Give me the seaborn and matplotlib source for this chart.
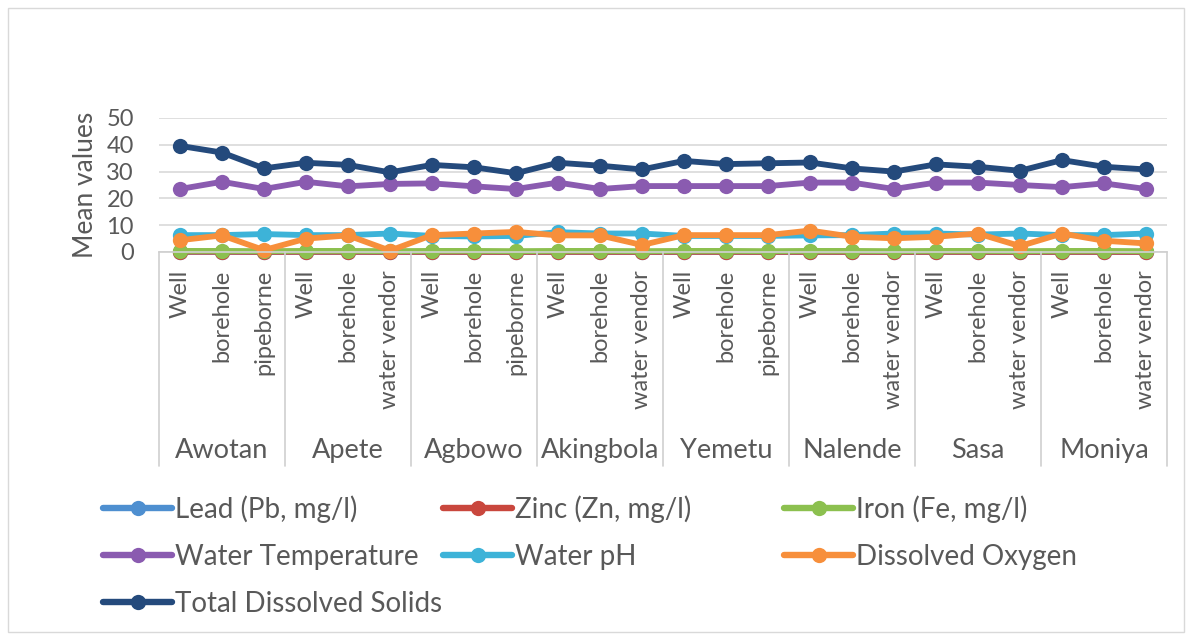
import pandas as pd
import seaborn as sns
import matplotlib.pyplot as plt
from matplotlib.lines import Line2D
from matplotlib.patches import Rectangle

# sampling sites and water sources
towns = ['Awotan', 'Apete', 'Agbowo', 'Akingbola', 'Yemetu', 'Nalende', 'Sasa', 'Moniya']
sources = [
    ['Well', 'borehole', 'pipeborne'],
    ['Well', 'borehole', 'water vendor'],
    ['Well', 'borehole', 'pipeborne'],
    ['Well', 'borehole', 'water vendor'],
    ['Well', 'borehole', 'pipeborne'],
    ['Well', 'borehole', 'water vendor'],
    ['Well', 'borehole', 'water vendor'],
    ['Well', 'borehole', 'water vendor'],
]

# mean values (24 samples)
lead = [0.05, 0.05, 0.02, 0.03, 0.04, 0.02, 0.03, 0.04, 0.02, 0.03, 0.03, 0.02,
        0.03, 0.04, 0.02, 0.03, 0.03, 0.02, 0.03, 0.04, 0.02, 0.03, 0.03, 0.02]
zinc = [0.1, 0.1, 0.05, 0.08, 0.08, 0.05, 0.07, 0.06, 0.05, 0.07, 0.06, 0.05,
        0.07, 0.06, 0.05, 0.07, 0.06, 0.05, 0.07, 0.06, 0.05, 0.07, 0.06, 0.05]
iron = [0.4, 0.4, 0.3, 0.4, 0.4, 0.3, 0.4, 0.4, 0.3, 0.4, 0.4, 0.3,
        0.4, 0.4, 0.3, 0.4, 0.4, 0.3, 0.4, 0.4, 0.3, 0.4, 0.4, 0.3]
temperature = [23.5, 26.2, 23.5, 26.2, 24.5, 25.4, 25.6, 24.5, 23.5, 25.9, 23.5, 24.6,
               24.6, 24.6, 24.6, 25.9, 25.9, 23.5, 25.9, 25.9, 25.0, 24.2, 25.6, 23.5]
ph = [6.3, 6.3, 6.7, 6.3, 6.3, 6.9, 6.0, 5.8, 6.0, 7.4, 6.9, 6.9,
      6.0, 6.0, 6.0, 6.2, 6.3, 6.9, 6.9, 6.5, 6.9, 6.3, 6.3, 6.9]
oxygen = [4.4, 6.2, 0.7, 5.0, 6.2, 0.5, 6.3, 6.9, 7.5, 6.2, 6.2, 2.6,
          6.3, 6.3, 6.3, 8.0, 5.7, 5.1, 5.7, 6.9, 2.2, 6.9, 4.2, 3.2]
tds = [39.6, 37.1, 31.2, 33.3, 32.5, 29.7, 32.5, 31.6, 29.4, 33.3, 32.2, 30.8,
       34.0, 32.8, 33.1, 33.4, 31.2, 30.0, 32.7, 31.8, 30.3, 34.3, 31.8, 30.8]

series_names = ['Lead (Pb, mg/l)', 'Zinc (Zn, mg/l)', 'Iron (Fe, mg/l)',
                'Water Temperature', 'Water pH', 'Dissolved Oxygen',
                'Total Dissolved Solids']
series_values = [lead, zinc, iron, temperature, ph, oxygen, tds]
colors = ['#4e8fd0', '#c9473d', '#8cc04f', '#8a5bb0', '#3db3d8', '#f78f3b', '#244a7c']

sample_labels = [s for group in sources for s in group]
n = len(sample_labels)

rows = []
for name, vals in zip(series_names, series_values):
    for i, v in enumerate(vals):
        rows.append({'pos': i, 'value': v, 'param': name})
df = pd.DataFrame(rows)

sns.set_theme(style='white')
plt.rcParams['font.family'] = ['Lato', 'DejaVu Sans']
grey = '#595959'

fig = plt.figure(figsize=(11.92, 6.4), dpi=100)
ax = fig.add_axes([159 / 1192, 1 - 252 / 640, (1167 - 159) / 1192, (252 - 118) / 640])

palette = dict(zip(series_names, colors))
sns.lineplot(data=df, x='pos', y='value', hue='param', hue_order=series_names,
             palette=palette, marker='o', markersize=11, markeredgewidth=0,
             linewidth=4.2, legend=False, ax=ax)
for line in ax.lines:
    line.set_clip_on(False)

ax.set_xlim(-0.5, n - 0.5)
ax.set_ylim(0, 50)
ax.set_yticks(range(0, 51, 10))
ax.tick_params(axis='y', labelsize=17, labelcolor=grey, length=0, pad=18)
ax.set_ylabel('Mean values', fontsize=19, color=grey, labelpad=6)
ax.set_xlabel('')
ax.set_xticks(range(n))
ax.set_xticklabels(sample_labels, rotation=90, va='top', ha='center')
ax.tick_params(axis='x', labelsize=17, labelcolor=grey, length=0, pad=13)
ax.yaxis.grid(True, color='#d9d9d9', lw=1.2)
ax.set_axisbelow(True)
for side in ['left', 'top', 'right']:
    ax.spines[side].set_visible(False)
ax.spines['bottom'].set_color('#d0d0d0')

# town group separators and labels below the axis
trans = ax.get_xaxis_transform()
for k in range(len(towns) + 1):
    ax.plot([k * 3 - 0.5, k * 3 - 0.5], [0, -1.6], transform=trans,
            color='#d0d0d0', lw=1.2, clip_on=False)
for k, town in enumerate(towns):
    ax.text(k * 3 + 1, -1.48, town, transform=trans, ha='center', va='center',
            fontsize=19.5, color=grey)

# legend: three columns placed like the Excel legend (row-major order)
columns = [[0, 3, 6], [1, 4], [2, 5]]
col_x = [103, 443, 784]
for idx, x0 in zip(columns, col_x):
    handles = [Line2D([], [], color=colors[i], lw=4.6, marker='o', markersize=11,
                      markeredgewidth=0) for i in idx]
    labels = [series_names[i] for i in idx]
    fig.legend(handles, labels, loc='upper left',
               bbox_to_anchor=(x0 / 1192, 1 - 495 / 640), frameon=False,
               fontsize=20, handlelength=2.5, handletextpad=0.1,
               borderpad=0, borderaxespad=0, labelspacing=0.76, labelcolor=grey)

fig.patches.append(Rectangle((8 / 1192, 8 / 640), 1176 / 1192, 624 / 640,
                             transform=fig.transFigure, fill=False,
                             edgecolor='#d9d9d9', lw=1))

fig.savefig('out.png', dpi=100)
